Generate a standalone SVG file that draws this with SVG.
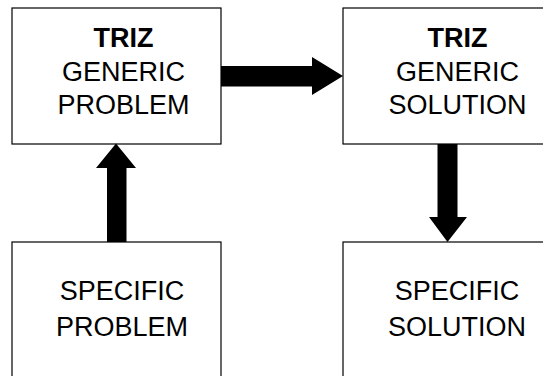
<svg xmlns="http://www.w3.org/2000/svg" width="543" height="376" viewBox="0 0 543 376">
<style>
.box{fill:#fff;stroke:#000;stroke-width:1.2}
.t{font-family:"Liberation Sans",Arial,sans-serif;font-size:27px;fill:#000;text-anchor:middle}
.b{font-weight:bold}
.arr{fill:#000;stroke:none}
</style>
<rect width="543" height="376" fill="#fff"/>
<g id="node-generic-problem">
<rect class="box" x="12" y="8" width="209" height="136"/>
<text class="t b" x="123.5" y="46.5">TRIZ</text>
<text class="t" x="123.5" y="80.5">GENERIC</text>
<text class="t" x="123.5" y="113.5">PROBLEM</text>
</g>
<g id="node-generic-solution">
<rect class="box" x="343" y="8" width="209" height="136"/>
<text class="t b" x="457.5" y="46.5">TRIZ</text>
<text class="t" x="457.5" y="80.5">GENERIC</text>
<text class="t" x="457.5" y="113.5">SOLUTION</text>
</g>
<g id="node-specific-problem">
<rect class="box" x="12" y="242" width="209" height="140"/>
<text class="t" x="122" y="300">SPECIFIC</text>
<text class="t" x="122" y="335.5">PROBLEM</text>
</g>
<g id="node-specific-solution">
<rect class="box" x="343" y="242" width="209" height="140"/>
<text class="t" x="457" y="300">SPECIFIC</text>
<text class="t" x="457" y="335.5">SOLUTION</text>
</g>
<g id="connectors">
<polygon class="arr" points="221,66 312,66 312,57 343,76 312,95 312,86.5 221,86.5"/>
<polygon class="arr" points="107,242 107,168 96,168 116,143.5 136,168 126.5,168 126.5,242"/>
<polygon class="arr" points="437.5,144 457.5,144 457.5,217 467,217 447.5,242 429,217 437.5,217"/>
</g>
</svg>
